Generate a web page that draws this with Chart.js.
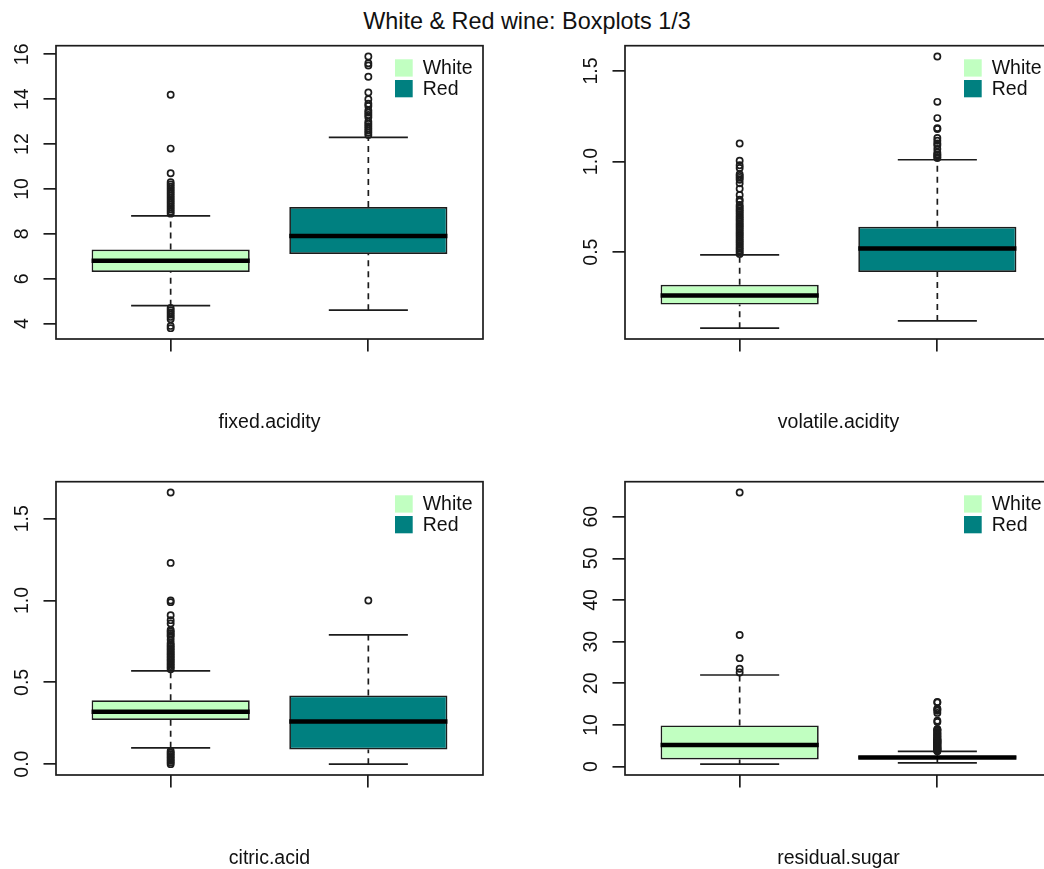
<!DOCTYPE html>
<html lang="en">
<head>
<meta charset="UTF-8">
<title>White &amp; Red wine: Boxplots 1/3</title>
<script src="https://cdn.jsdelivr.net/npm/chart.js@4.4.1/dist/chart.umd.min.js"></script>
<style>
    html, body {
        margin: 0;
        padding: 0;
        width: 1044px;
        height: 869px;
        overflow: hidden;
        background: #fff;
    }
    body {
        position: relative;
        font-family: "Liberation Sans", Arial, sans-serif;
    }
    #title {
        position: absolute;
        left: 0;
        top: 8px;
        width: 1054px;
        text-align: center;
        font-size: 23.4px;
        line-height: 27px;
        color: #111;
    }
    canvas {
        position: absolute;
    }
</style>
</head>
<body>
<div id="title">White &amp; Red wine: Boxplots 1/3</div>
<canvas id="fixedChart" width="500" height="404" style="left:0px;top:30px"></canvas>
<canvas id="volatileChart" width="500" height="404" style="left:569px;top:30px"></canvas>
<canvas id="citricChart" width="500" height="404" style="left:0px;top:466px"></canvas>
<canvas id="sugarChart" width="500" height="404" style="left:569px;top:466px"></canvas>

<script>
const groups = ['White', 'Red'];

// summaries are [lower whisker, Q1, median, Q3, upper whisker]
const fixedWhite = [4.8, 6.3, 6.8, 7.3, 8.8];
const fixedRed = [4.6, 7.1, 7.9, 9.2, 12.3];
const fixedWhiteOut = [3.8, 3.9, 4.2, 4.3, 4.4, 4.5, 4.6, 4.7,
    8.9, 9.0, 9.1, 9.2, 9.3, 9.4, 9.5, 9.6, 9.7, 9.8, 9.9, 10.0, 10.1, 10.2, 10.3, 10.7, 11.8, 14.2];
const fixedRedOut = [12.4, 12.5, 12.6, 12.7, 12.8, 12.9, 13.0, 13.2, 13.3, 13.4, 13.5, 13.7, 13.8, 14.0,
    14.3, 15.0, 15.5, 15.6, 15.9];
const fixedTicks = ['4', '6', '8', '10', '12', '14', '16'];

const volatileWhite = [0.08, 0.21, 0.26, 0.32, 0.485];
const volatileRed = [0.12, 0.39, 0.52, 0.64, 1.01];
const volatileWhiteOut = [0.49, 0.5, 0.51, 0.52, 0.53, 0.54, 0.55, 0.56, 0.57, 0.58, 0.59, 0.6, 0.61, 0.62,
    0.63, 0.64, 0.65, 0.66, 0.67, 0.68, 0.69, 0.7, 0.71, 0.72, 0.73, 0.74, 0.75, 0.76, 0.78, 0.79,
    0.815, 0.85, 0.88, 0.9, 0.91, 0.92, 0.93, 0.965, 0.98, 1.005, 1.1];
const volatileRedOut = [1.02, 1.025, 1.035, 1.04, 1.05, 1.07, 1.09, 1.1, 1.115, 1.13, 1.18, 1.185, 1.24, 1.33, 1.58];
const volatileTicks = ['0.5', '1.0', '1.5'];

const citricWhite = [0.1, 0.27, 0.32, 0.39, 0.57];
const citricRed = [0.0, 0.09, 0.26, 0.42, 0.79];
const citricWhiteOut = [0.0, 0.01, 0.02, 0.03, 0.04, 0.05, 0.06, 0.07, 0.08,
    0.58, 0.59, 0.6, 0.61, 0.62, 0.63, 0.64, 0.65, 0.66, 0.67, 0.68, 0.69, 0.7, 0.71, 0.72, 0.73, 0.74,
    0.76, 0.78, 0.79, 0.8, 0.81, 0.82, 0.86, 0.88, 0.91, 0.99, 1.0, 1.23, 1.66];
const citricRedOut = [1.0];
const citricTicks = ['0.0', '0.5', '1.0', '1.5'];

const sugarWhite = [0.6, 1.7, 5.2, 9.9, 22.0];
const sugarRed = [0.9, 1.9, 2.2, 2.6, 3.65];
const sugarWhiteOut = [22.6, 23.5, 26.05, 31.6, 65.8];
const sugarRedOut = [3.7, 3.8, 3.9, 4.0, 4.1, 4.2, 4.3, 4.4, 4.5, 4.6, 4.7, 4.8, 5.0, 5.1, 5.2, 5.4, 5.5,
    5.6, 5.7, 5.8, 5.9, 6.0, 6.1, 6.2, 6.3, 6.4, 6.55, 6.6, 6.7, 7.0, 7.2, 7.3, 7.5, 7.8, 7.9, 8.1, 8.3,
    8.6, 8.8, 8.9, 9.0, 10.7, 11.0, 12.9, 13.4, 13.8, 13.9, 15.4, 15.5];
const sugarTicks = ['0', '10', '20', '30', '40', '50', '60'];

const fillColors = ['#C1FFC1', '#008080'];
const INK = '#1c1c1c';
const TEXT = '#111';
const FONT = '"Liberation Sans", Arial, sans-serif';
const FONT_SIZE = 19.5;
const BOX_WIDTH = 0.8;
const CAP_WIDTH = 0.4;
const LINE_W = 1.7;

function seg(x0, y0, x1, y1) {
    return [{x: x0, y: y0}, {x: x1, y: y1}];
}

function lineSet(data, width, dash, order, color) {
    return {
        type: 'line', data: data, order: order,
        borderColor: color || INK, borderWidth: width, borderDash: dash,
        borderCapStyle: 'butt', pointRadius: 0, fill: false, tension: 0
    };
}

function buildDatasets(stats, outliers) {
    const ds = [];
    const pts = [];
    outliers.forEach((vals, i) => vals.forEach(v => pts.push({x: i + 1, y: v})));
    ds.push({
        type: 'scatter', data: pts, order: 0,
        pointStyle: 'circle', pointRadius: 3.1, borderWidth: 1.7,
        borderColor: INK, backgroundColor: 'rgba(0,0,0,0)'
    });
    stats.forEach((s, i) => {
        const x = i + 1;
        const [lo, q1, med, q3, hi] = s;
        ds.push(lineSet(seg(x - BOX_WIDTH / 2, med, x + BOX_WIDTH / 2, med), 4.5, [], 1, '#000'));
        ds.push(lineSet(seg(x - CAP_WIDTH / 2, hi, x + CAP_WIDTH / 2, hi), LINE_W, [], 2));
        ds.push(lineSet(seg(x - CAP_WIDTH / 2, lo, x + CAP_WIDTH / 2, lo), LINE_W, [], 2));
        ds.push(lineSet(seg(x, q3, x, hi), LINE_W, [6, 5], 3));
        ds.push(lineSet(seg(x, lo, x, q1), LINE_W, [6, 5], 3));
    });
    ds.push({
        type: 'bar', order: 4,
        data: stats.map((s, i) => ({x: i + 1, y: [s[1], s[3]]})),
        backgroundColor: fillColors, borderColor: INK, borderWidth: LINE_W,
        borderSkipped: false, barPercentage: 1, categoryPercentage: BOX_WIDTH
    });
    return ds;
}

// frame around the plot region, rotated y labels and the fill legend
const panelDecor = {
    id: 'panelDecor',
    afterDatasetsDraw(chart) {
        const a = chart.chartArea;
        const ctx = chart.ctx;
        ctx.save();
        ctx.strokeStyle = INK;
        ctx.lineWidth = LINE_W;
        ctx.strokeRect(a.left, a.top, a.right - a.left, a.bottom - a.top);
        ctx.restore();
    },
    afterDraw(chart, args, opts) {
        const a = chart.chartArea;
        const ctx = chart.ctx;
        const y = chart.scales.y;
        ctx.save();
        ctx.fillStyle = TEXT;
        ctx.font = FONT_SIZE + 'px ' + FONT;
        ctx.textAlign = 'center';
        ctx.textBaseline = 'alphabetic';
        opts.labels.forEach(t => {
            ctx.save();
            ctx.translate(a.left - 27.7, y.getPixelForValue(parseFloat(t)));
            ctx.rotate(-Math.PI / 2);
            ctx.fillText(t, 0, 0);
            ctx.restore();
        });
        const lx = a.right - 88;
        groups.forEach((g, i) => {
            const top = a.top + 13.6 + i * 20.7;
            ctx.fillStyle = fillColors[i];
            ctx.fillRect(lx, top, 17.7, 17.3);
            ctx.fillStyle = TEXT;
            ctx.textAlign = 'left';
            ctx.textBaseline = 'middle';
            ctx.fillText(g, lx + 27.7, top + 9.8);
        });
        ctx.restore();
    }
};

function makePanel(id, name, stats, outliers, tickLabels) {
    const all = stats.flat().concat(outliers.flat());
    const lo = Math.min(...all);
    const hi = Math.max(...all);
    const pad = (hi - lo) * 0.04;
    const tickGrid = {
        drawOnChartArea: false, drawTicks: true, tickLength: 12.5,
        color: INK, lineWidth: LINE_W, offset: false
    };
    new Chart(document.getElementById(id), {
        type: 'scatter',
        data: {datasets: buildDatasets(stats, outliers)},
        plugins: [panelDecor],
        options: {
            responsive: false,
            animation: false,
            events: [],
            layout: {padding: {top: 15.7, right: 17, left: 0, bottom: 0}},
            plugins: {
                legend: {display: false},
                tooltip: {enabled: false},
                panelDecor: {labels: tickLabels}
            },
            scales: {
                x: {
                    type: 'linear', min: 0.42, max: 2.58, offset: false, bounds: 'data',
                    afterBuildTicks: s => { s.ticks = groups.map((g, i) => ({value: i + 1})); },
                    afterFit: s => { s.height = 95; },
                    ticks: {display: false},
                    grid: tickGrid,
                    border: {display: false},
                    title: {
                        display: true, text: name, color: TEXT, padding: 0,
                        font: {family: FONT, size: FONT_SIZE, lineHeight: 1.2}
                    }
                },
                y: {
                    type: 'linear', min: lo - pad, max: hi + pad, bounds: 'data',
                    afterBuildTicks: s => { s.ticks = tickLabels.map(t => ({value: parseFloat(t)})); },
                    afterFit: s => { s.width = 56; },
                    ticks: {display: false},
                    grid: tickGrid,
                    border: {display: false}
                }
            }
        }
    });
}

makePanel('fixedChart', 'fixed.acidity', [fixedWhite, fixedRed], [fixedWhiteOut, fixedRedOut], fixedTicks);
makePanel('volatileChart', 'volatile.acidity', [volatileWhite, volatileRed], [volatileWhiteOut, volatileRedOut], volatileTicks);
makePanel('citricChart', 'citric.acid', [citricWhite, citricRed], [citricWhiteOut, citricRedOut], citricTicks);
makePanel('sugarChart', 'residual.sugar', [sugarWhite, sugarRed], [sugarWhiteOut, sugarRedOut], sugarTicks);
</script>
</body>
</html>
